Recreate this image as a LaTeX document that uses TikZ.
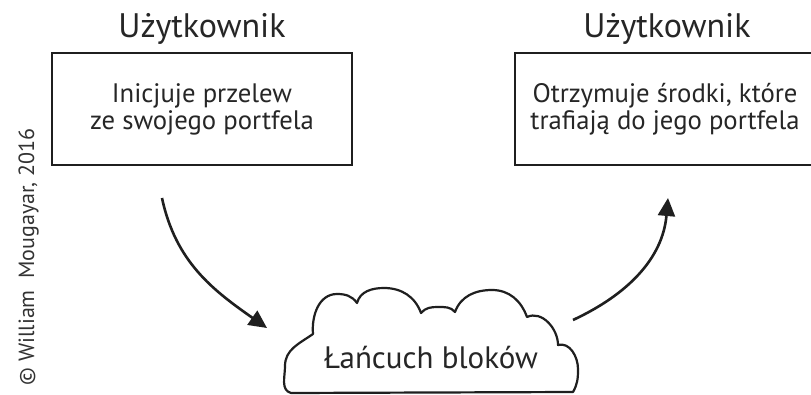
\documentclass[tikz,border=0pt]{standalone}
\usepackage{fontspec}
\setmainfont{PT Sans}
\usetikzlibrary{arrows.meta}
\tikzset{
  ink/.style={draw=black!88, line width=2.6pt},
  userbox/.style={ink, minimum width=300pt, minimum height=112pt, align=center, inner sep=0pt,
     font=\fontsize{26.7}{27}\selectfont, text=black!85},
  title/.style={anchor=base, font=\fontsize{34}{36}\selectfont, text=black!85},
  flow/.style={draw=black!88, line width=2.6pt, -{Triangle[length=18pt,width=17pt]}},
  cloudline/.style={draw=black!88, line width=2.2pt, line join=round},
}
\begin{document}
\begin{tikzpicture}[x=1pt,y=1pt]
\useasboundingbox (0,0) rectangle (811,-395);
\fill[white] (0,0) rectangle (811,-395);
% titles
\node[title] (t1) at (202,-38) {Użytkownik};
\node[title] (t2) at (667,-38) {Użytkownik};
% boxes
\node[userbox] (b1) at (202,-109) {Inicjuje przelew\\ze swojego portfela};
\node[userbox] (b2) at (665,-109) {Otrzymuje środki, które\\trafiają do jego portfela};
% cloud
\draw[cloudline]
  (291,-393) to[out=165,in=-90] (285,-366) to[out=90,in=215] (313,-334)
  to[out=95,in=180] (337,-294) to[out=0,in=125] (357,-303)
  to[out=75,in=180] (384,-288) to[out=0,in=110] (421,-313)
  to[out=50,in=180] (438,-307) to[out=0,in=130] (455,-312)
  to[out=70,in=180] (492,-290) to[out=0,in=110] (527,-317)
  to[out=25,in=90] (558,-345)
  to[out=15,in=90] (578,-369) to[out=-90,in=60] (573,-392)
  -- cycle;
\node[anchor=base, font=\fontsize{31}{33}\selectfont, text=black!85] (bc) at (431,-368) {Łańcuch bloków};
% arrows
\coordinate (a1s) at (162,-198);
\coordinate (a1e) at (267,-328);
\coordinate (a2s) at (573,-320);
\coordinate (a2e) at (668,-198);
\draw[flow] (a1s) to[out=-78,in=145] (a1e);
\draw[flow] (a2s) to[out=25,in=-95] (a2e);
% copyright
\node[rotate=90, anchor=base, font=\fontsize{22}{24}\selectfont, text=black!80] (copy) at (34,-257) {© William\ \ Mougayar, 2016};
\end{tikzpicture}
\end{document}
